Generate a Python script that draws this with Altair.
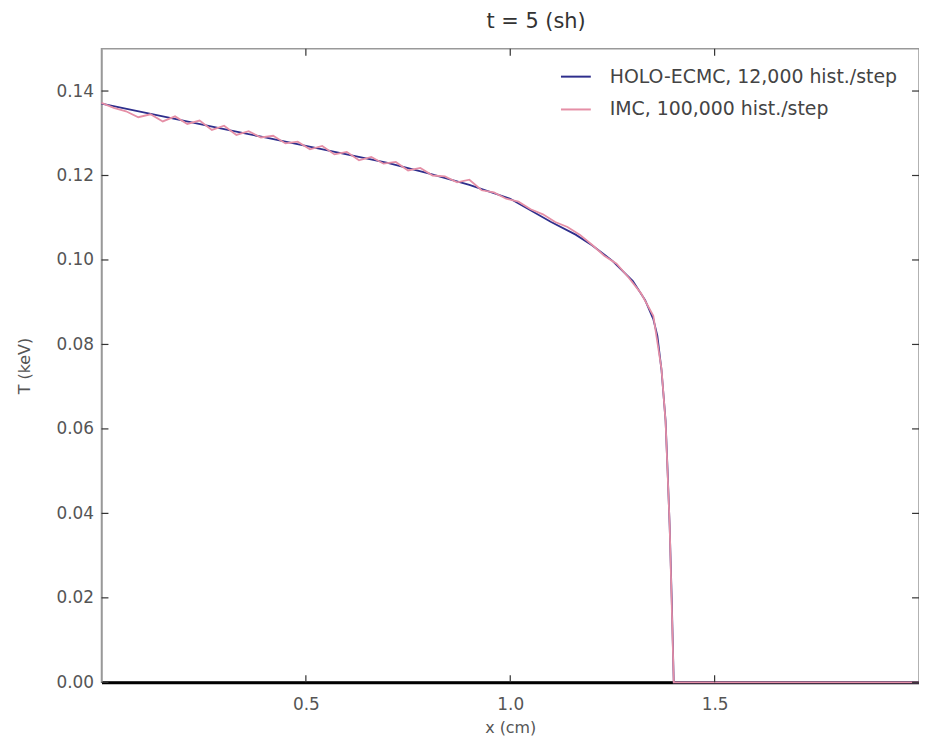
import altair as alt
import pandas as pd

# ---- data ----
holo_x = [0.0, 0.1, 0.2, 0.3, 0.4, 0.5, 0.6, 0.7, 0.8, 0.9, 1.0, 1.1, 1.16, 1.2, 1.25,
          1.3, 1.33, 1.35, 1.36, 1.37, 1.38, 1.385, 1.39, 1.395, 1.4, 2.0]
holo_y = [0.1370, 0.1350, 0.1330, 0.1310, 0.1290, 0.1270, 0.1250, 0.1230, 0.1205, 0.1178,
          0.1145, 0.1090, 0.1060, 0.1035, 0.0998, 0.0950, 0.0905, 0.0860, 0.0820, 0.0740,
          0.0620, 0.0500, 0.0370, 0.0200, 0.0, 0.0]

imc_x = [0.00, 0.03, 0.06, 0.09, 0.12, 0.15, 0.18, 0.21, 0.24, 0.27, 0.30, 0.33, 0.36,
         0.39, 0.42, 0.45, 0.48, 0.51, 0.54, 0.57, 0.60, 0.63, 0.66, 0.69, 0.72, 0.75,
         0.78, 0.81, 0.84, 0.87, 0.90, 0.93, 0.96, 0.99, 1.02, 1.05, 1.08, 1.11, 1.14,
         1.17, 1.20, 1.23, 1.26, 1.29, 1.32, 1.35, 1.37, 1.38, 1.39, 1.40, 2.0]
imc_y = [0.1372, 0.1360, 0.1352, 0.1338, 0.1345, 0.1328, 0.1340, 0.1322, 0.1330, 0.1308,
         0.1318, 0.1296, 0.1305, 0.1290, 0.1294, 0.1276, 0.1280, 0.1262, 0.1270, 0.1250,
         0.1256, 0.1236, 0.1244, 0.1228, 0.1232, 0.1212, 0.1218, 0.1200, 0.1198, 0.1184,
         0.1190, 0.1165, 0.1160, 0.1145, 0.1138, 0.1120, 0.1108, 0.1090, 0.1078, 0.1060,
         0.1036, 0.1010, 0.0991, 0.0958, 0.0921, 0.0868, 0.0742, 0.0618, 0.0372, 0.0, 0.0]

series_names = ["HOLO-ECMC, 12,000 hist./step", "IMC, 100,000 hist./step"]
series_colors = ["#2e2e8c", "#e58fa6"]

x_ticks = [0.5, 1.0, 1.5]
y_ticks = [0.0, 0.02, 0.04, 0.06, 0.08, 0.10, 0.12, 0.14]

df = pd.concat([
    pd.DataFrame({"x": holo_x, "T": holo_y, "series": series_names[0], "order": 0}),
    pd.DataFrame({"x": imc_x, "T": imc_y, "series": series_names[1], "order": 1}),
], ignore_index=True)

W, H = 822, 637
xscale = alt.Scale(domain=[0, 2], nice=False)
yscale = alt.Scale(domain=[0, 0.15], nice=False)

lines = alt.Chart(df).mark_line(strokeWidth=1.8).encode(
    x=alt.X("x:Q", scale=xscale,
            axis=alt.Axis(values=x_ticks, format=".1f", title="x (cm)", ticks=False,
                          grid=False, domainColor="black", domainWidth=3,
                          labelPadding=14, titlePadding=7)),
    y=alt.Y("T:Q", scale=yscale,
            axis=alt.Axis(values=y_ticks, format=".2f", title="T (keV)", ticks=False,
                          grid=False, domainColor="#999", domainWidth=1.5,
                          labelPadding=8, titlePadding=24)),
    color=alt.Color("series:N", scale=alt.Scale(domain=series_names, range=series_colors),
                    legend=alt.Legend(title=None, orient="none", legendX=461, legendY=12,
                                      symbolType="stroke", symbolSize=900,
                                      symbolStrokeWidth=2, labelFontSize=19,
                                      labelColor="#444", rowPadding=7, labelLimit=0,
                                      labelOffset=18, labelFont="DejaVu Sans")),
    detail="series:N",
    order="order:Q",
)

xt = pd.DataFrame({"v": x_ticks})
yt = pd.DataFrame({"v": y_ticks})
tick_color = "#333"
xb = alt.Chart(xt).mark_rule(color=tick_color, strokeWidth=1.2).encode(
    x=alt.X("v:Q", scale=xscale), y=alt.value(H), y2=alt.value(H - 7))
xtop = alt.Chart(xt).mark_rule(color=tick_color, strokeWidth=1.2).encode(
    x=alt.X("v:Q", scale=xscale), y=alt.value(0), y2=alt.value(7))
yl = alt.Chart(yt).mark_rule(color=tick_color, strokeWidth=1.2).encode(
    y=alt.Y("v:Q", scale=yscale), x=alt.value(0), x2=alt.value(7))
yr = alt.Chart(yt).mark_rule(color=tick_color, strokeWidth=1.2).encode(
    y=alt.Y("v:Q", scale=yscale), x=alt.value(W), x2=alt.value(W - 7))

chart = alt.layer(lines, xb, xtop, yl, yr).properties(
    width=W, height=H,
    title=alt.Title("t = 5 (sh)", fontSize=21, font="DejaVu Sans", fontWeight="normal",
                    color="#333", offset=16, anchor="middle", dx=26),
    autosize=alt.AutoSizeParams(type="none"),
    padding={"left": 94, "top": 39, "right": 0, "bottom": 60},
    background="white",
).configure_view(stroke="#999", strokeWidth=1.5).configure_axis(
    labelFont="DejaVu Sans", labelFontSize=17, labelColor="#555",
    titleFont="DejaVu Sans", titleFontSize=16, titleColor="#555", titleFontWeight="normal",
)

chart.save("out.html", embed_options={"renderer": "svg", "actions": False})
